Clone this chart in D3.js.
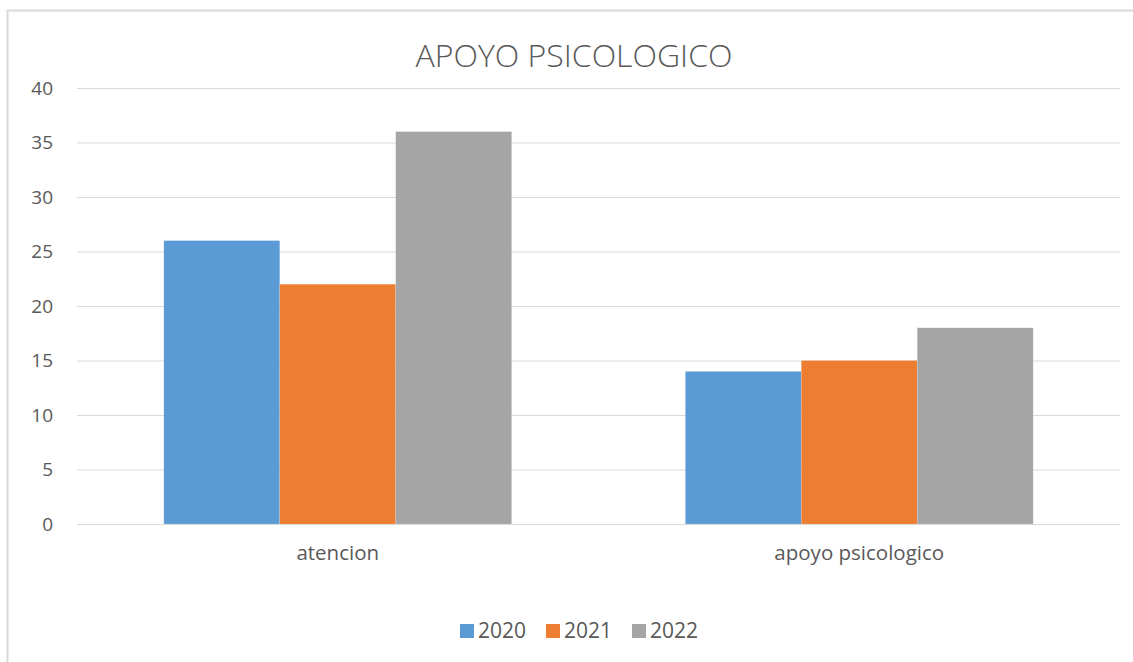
<!DOCTYPE html>
<html>
<head>
<meta charset="utf-8">
<script src="https://cdn.jsdelivr.net/npm/d3@7"></script>
<style>
  body { margin: 0; background: #fff; }
  text { font-family: "Open Sans", "Liberation Sans", sans-serif; fill: #595959; }
</style>
</head>
<body>
<svg id="drawing_region"></svg>
<script>
const categories = ['atencion', 'apoyo psicologico'];
const series = ['2020', '2021', '2022'];
const values2020 = [26, 14];
const values2021 = [22, 15];
const values2022 = [36, 18];
const yticks = [0, 5, 10, 15, 20, 25, 30, 35, 40];
const colors = ['#5b9bd5', '#ed7d31', '#a5a5a5'];

const data = categories.map((c, i) => ({
    label: c,
    values: [values2020[i], values2021[i], values2022[i]]
}));

const config = {
    width: 1133,
    height: 662,
    margin: {top: 88, right: 13, bottom: 138, left: 77},
    title: 'APOYO PSICOLOGICO'
};

const svg = d3.select('#drawing_region')
    .attr('width', config.width)
    .attr('height', config.height);

// outer chart frame
svg.append('rect')
    .attr('x', 7.5).attr('y', 10.5)
    .attr('width', 1140).attr('height', 700)
    .attr('fill', 'none')
    .attr('stroke', '#d9d9d9')
    .attr('stroke-width', 2);

const inner_width = config.width - config.margin.left - config.margin.right;
const inner_height = config.height - config.margin.top - config.margin.bottom;

const chart = svg.append('g')
    .attr('transform', `translate(${config.margin.left}, ${config.margin.top})`);

const xscale = d3.scaleBand()
    .domain(categories)
    .range([0, inner_width]);

const inner = d3.scaleBand()
    .domain(series)
    .range([0, xscale.bandwidth() * 0.667])
    .paddingInner(0);

const yscale = d3.scaleLinear()
    .domain([0, 40])
    .range([inner_height, 0]);

// grid lines + y labels
const yaxis = d3.axisLeft(yscale)
    .tickValues(yticks)
    .tickSize(-inner_width)
    .tickPadding(24);

chart.append('g')
    .call(yaxis)
    .call(g => g.select('.domain').remove())
    .call(g => g.selectAll('.tick line').attr('stroke', '#d9d9d9').attr('stroke-width', 1))
    .call(g => g.selectAll('.tick text')
        .style('font-size', '19px')
        .attr('fill', '#595959'));

const offset = (xscale.bandwidth() - inner.range()[1]) / 2;

const groups = chart.selectAll('.group')
    .data(data)
    .join('g')
    .attr('class', 'group')
    .attr('transform', d => `translate(${xscale(d.label) + offset}, 0)`);

groups.selectAll('rect')
    .data(d => d.values.map((v, i) => ({key: series[i], value: v, i: i})))
    .join('rect')
    .attr('x', d => inner(d.key))
    .attr('y', d => yscale(d.value))
    .attr('width', inner.bandwidth())
    .attr('height', d => inner_height - yscale(d.value))
    .attr('fill', d => colors[d.i])
    .attr('stroke', '#ffffff')
    .attr('stroke-opacity', 0.25)
    .attr('stroke-width', 0.6);

// x labels
const xaxis = d3.axisBottom(xscale).tickSize(0).tickPadding(21);
chart.append('g')
    .attr('transform', `translate(0, ${inner_height})`)
    .call(xaxis)
    .call(g => g.select('.domain').attr('stroke', '#d9d9d9'))
    .call(g => g.selectAll('.tick text')
        .style('font-size', '20.5px')
        .attr('fill', '#595959'));

// title
svg.append('text')
    .attr('x', 574)
    .attr('y', 67)
    .attr('text-anchor', 'middle')
    .style('font-size', '32px')
    .style('font-weight', 300)
    .text(config.title);

// legend
const legend = svg.append('g')
    .attr('transform', 'translate(460, 631)');
const item = legend.selectAll('g')
    .data(series)
    .join('g')
    .attr('transform', (d, i) => `translate(${i * 86}, 0)`);
item.append('rect')
    .attr('x', 0).attr('y', -7)
    .attr('width', 14).attr('height', 14)
    .attr('fill', (d, i) => colors[i]);
item.append('text')
    .attr('x', 18).attr('dy', '0.35em')
    .style('font-size', '21px')
    .text(d => d);
</script>
</body>
</html>
